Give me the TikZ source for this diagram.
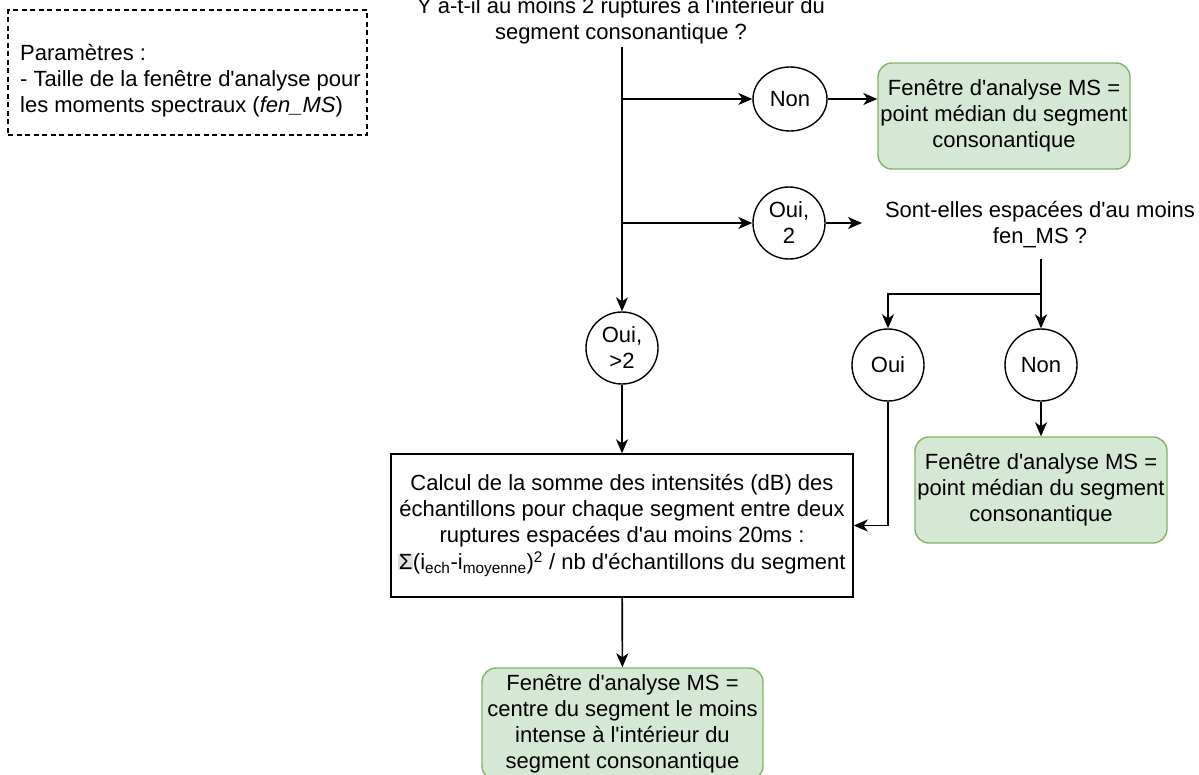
\documentclass[tikz,border=0pt]{standalone}
\usepackage{fontspec}
\setmainfont{Liberation Sans}[Ligatures=TeXOff]
\usetikzlibrary{arrows.meta,shapes.geometric}
\definecolor{gfill}{HTML}{D5E8D4}
\definecolor{gdraw}{HTML}{82B366}
\begin{document}
\begin{tikzpicture}[x=1pt,y=-1pt,
  font=\fontsize{22}{26}\selectfont,
  ln/.style={line width=1.6pt,draw=black},
  arr/.style={ln,-{Stealth[length=14pt,width=12pt,inset=4pt]}},
  circ/.style={circle,draw,line width=1.4pt,minimum size=72pt,inner sep=0pt,align=center,fill=white},
  oval/.style={ellipse,draw,line width=1.4pt,minimum width=74pt,minimum height=64pt,inner sep=0pt,align=center,fill=white},
  res/.style={draw=gdraw,fill=gfill,line width=1.4pt,rounded corners=14pt,inner sep=0pt,align=center},
  plain/.style={align=center,inner sep=0pt},
  calcbox/.style={draw,line width=1.4pt,minimum width=462pt,minimum height=143pt,inner sep=0pt,align=center},
  dbox/.style={draw,dash pattern=on 5pt off 3.5pt,line width=1.3pt,minimum width=359pt,minimum height=125pt,inner sep=0pt}
]
\useasboundingbox (0,0) rectangle (1199,774);

% parameters box
\node[dbox] (params) at (187.5,72.5) {};
\node[anchor=west,align=left,inner sep=0pt] (paramtxt) at (20,81)
  {Paramètres :\\- Taille de la fenêtre d'analyse pour\\les moments spectraux (\textit{fen\_MS})};

% question
\node[plain] (q1) at (621,21) {Y a-t-il au moins 2 ruptures à l'intérieur du\\segment consonantique ?};
\coordinate (top) at (622,47);

\node[oval] (non1) at (790,99) {Non};
\node[res,minimum width=252pt,minimum height=106pt] (g1) at (1004,116)
  {Fenêtre d'analyse MS =\\point médian du segment\\consonantique};

\node[circ] (oui2) at (789,223) {Oui,\\2};
\coordinate (sin) at (862,223);
\node[plain] (sont) at (1040,225) {Sont-elles espacées d'au moins\\fen\_MS ?};
\coordinate (sb) at (1041,259);
\coordinate (jn) at (1041,294);

\node[circ] (oui3) at (888,365) {Oui};
\node[circ] (non2) at (1041,365) {Non};
\node[res,minimum width=252pt,minimum height=106pt] (g2) at (1041,490)
  {Fenêtre d'analyse MS =\\point médian du segment\\consonantique};

\node[circ] (ouigt) at (622,348) {Oui,\\>2};

\node[calcbox] (calc) at (622,525.5)
  {Calcul de la somme des intensités (dB) des\\échantillons pour chaque segment entre deux\\ruptures espacées d'au moins 20ms :\\[1pt]
   {\setlength{\fboxsep}{0.5pt}\colorbox{black!12}{Σ}}(i\textsubscript{ech}-i\textsubscript{moyenne})\textsuperscript{2} / nb d'échantillons du segment};

\node[res,minimum width=281pt,minimum height=112pt] (g3) at (622.5,724)
  {Fenêtre d'analyse MS =\\centre du segment le moins\\intense à l'intérieur du\\segment consonantique};

% connectors
\draw[arr] (top) -- (ouigt);
\draw[arr] (top |- non1) -- (non1);
\draw[arr] (top |- oui2) -- (oui2);
\draw[arr] (non1) -- (non1 -| g1.west);
\draw[arr] (oui2) -- (sin);
\draw[arr] (sb) -- (non2);
\draw[arr] (jn) -| (oui3);
\draw[arr] (oui3) |- (calc);
\draw[arr] (non2) -- (g2);
\draw[arr] (ouigt) -- (calc);
\draw[arr] (calc) -- (g3);
\end{tikzpicture}
\end{document}
